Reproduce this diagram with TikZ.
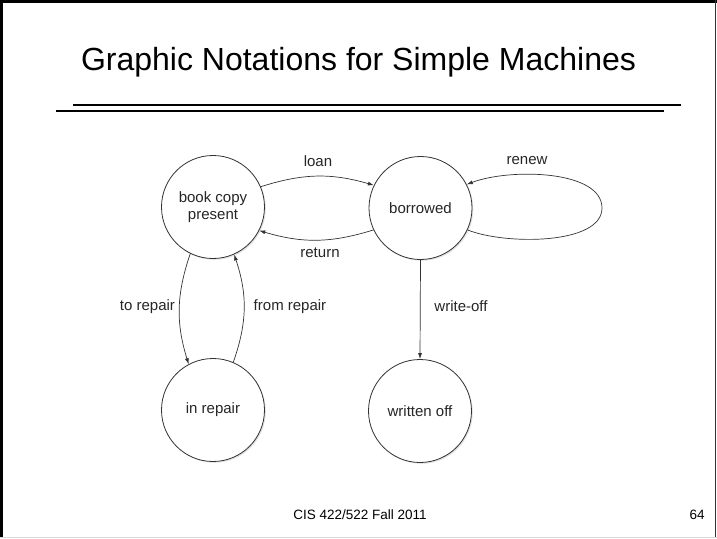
\documentclass[tikz,border=0pt]{standalone}
\usepackage{fontspec}
\setmainfont{Liberation Sans}
\usetikzlibrary{arrows.meta,shadows}
\definecolor{linegray}{HTML}{333333}
\tikzset{
  state/.style={circle, draw=linegray, line width=0.8pt, fill=white, minimum size=103pt, inner sep=0pt,
    font=\fontsize{15}{16.5}\selectfont, align=center, text=black!85,
    drop shadow={shadow xshift=1.3pt, shadow yshift=-1.3pt, fill=black!22}},
  trans/.style={draw=linegray, line width=0.7pt, -{Latex[length=6pt,width=4pt]}},
  lbl/.style={font=\fontsize{15}{16.5}\selectfont, text=black!85, inner sep=0pt},
  foot/.style={font=\fontsize{13.5}{15}\selectfont, inner sep=0pt}
}
\begin{document}
\begin{tikzpicture}[x=1pt,y=-1pt]
\useasboundingbox (0,0) rectangle (717,538);
\fill[white] (0,0) rectangle (717,538);
% slide frame
\draw[line width=3pt] (1.5,0) -- (1.5,538);
\draw[line width=3pt] (0,1.5) -- (717,1.5);
\draw[line width=1.5pt, black!80] (715.5,0) -- (715.5,537);
\draw[line width=1pt, black!15] (0,537) -- (717,537);
% title
\node[font=\fontsize{32}{36}\selectfont, anchor=base, inner sep=0pt] (title) at (358.5,70) {Graphic Notations for Simple Machines};
\draw[line width=2pt] (73,105) -- (681,105);
\draw[line width=2pt] (56,111) -- (664,111);
% states
\node[state] (bcp) at (213,207) {book copy\\present};
\node[state] (bor) at (420.5,208) {borrowed};
\node[state] (rep) at (213,410) {in repair};
\node[state] (wo) at (420,411) {written off};
% transitions
\draw[trans] (bcp.23) to[bend left=17] (bor.154);
\draw[trans] (bor.205) to[bend left=17] (bcp.333);
\draw[trans] (bor.-25) .. controls (505,245) and (602,245) .. (602,208)
                       .. controls (602,170) and (510,168) .. (bor.27);
\draw[trans] (bcp.244) to[bend right=18] (rep.118);
\draw[trans] (rep.67) to[bend right=19] (bcp.294);
\draw[trans] (bor.south) -- (wo.north);
% labels
\node[lbl] (lloan) at (318,161) {loan};
\node[lbl] (lret) at (320,253) {return};
\node[lbl] (lren) at (527,161) {renew};
\node[lbl] (lto) at (147.5,307) {to repair};
\node[lbl] (lfrom) at (290,307) {from repair};
\node[lbl] (lwo) at (461,306) {write-off};
% footer
\node[foot] (footer) at (360,515) {CIS 422/522 Fall 2011};
\node[foot] (pagenum) at (697,515) {64};
\end{tikzpicture}
\end{document}
